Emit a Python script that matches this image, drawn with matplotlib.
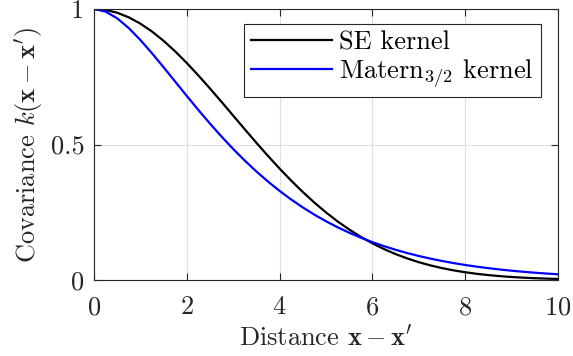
import matplotlib
matplotlib.use('Agg')
import matplotlib.pyplot as plt

# distance values
dist = [0, 0.25, 0.5, 0.75, 1, 1.25, 1.5, 1.75, 2, 2.25, 2.5, 2.75, 3, 3.25, 3.5,
        3.75, 4, 4.25, 4.5, 4.75, 5, 5.25, 5.5, 5.75, 6, 6.25, 6.5, 6.75, 7,
        7.25, 7.5, 7.75, 8, 8.25, 8.5, 8.75, 9, 9.25, 9.5, 9.75, 10]

se_kernel = [1.0, 0.9965, 0.9862, 0.9692, 0.9460, 0.9169, 0.8825, 0.8435,
             0.8007, 0.7548, 0.7066, 0.6570, 0.6065, 0.5561, 0.5063, 0.4578,
             0.4111, 0.3666, 0.3247, 0.2855, 0.2494, 0.2162, 0.1863, 0.1593,
             0.1353, 0.1142, 0.0956, 0.0796, 0.0657, 0.0539, 0.0439, 0.0355,
             0.0286, 0.0228, 0.0181, 0.0142, 0.0111, 0.0086, 0.0067, 0.0051,
             0.0039]

matern_kernel = [1.0, 0.9905, 0.9655, 0.9294, 0.8855, 0.8366, 0.7849, 0.7320,
                 0.6791, 0.6272, 0.5770, 0.5289, 0.4834, 0.4405, 0.4004, 0.3632,
                 0.3287, 0.2969, 0.2678, 0.2411, 0.2167, 0.1946, 0.1744, 0.1562,
                 0.1397, 0.1249, 0.1115, 0.0994, 0.0886, 0.0789, 0.0702, 0.0624,
                 0.0554, 0.0492, 0.0437, 0.0387, 0.0343, 0.0304, 0.0269, 0.0238,
                 0.0211]

xticks = [0, 2, 4, 6, 8, 10]
yticks = [0, 0.5, 1]
ytick_labels = ['0', '0.5', '1']

plt.rcParams['font.family'] = 'cmr10'
plt.rcParams['mathtext.fontset'] = 'cm'
plt.rcParams['axes.formatter.use_mathtext'] = True

fs = 19
fig = plt.figure(figsize=(5.73, 3.56), dpi=100)
ax = fig.add_axes([94 / 573, 1 - 280 / 356, 464 / 573, 271 / 356])

ax.plot(dist, se_kernel, '-', color='black', lw=1.6, label='SE kernel')
ax.plot(dist, matern_kernel, '-', color='blue', lw=1.6, label='Matern$_{3/2}$ kernel')

ax.set_xlim(0, 10)
ax.set_ylim(0, 1)
ax.set_xticks(xticks)
ax.set_yticks(yticks, labels=ytick_labels)
ax.grid(True, color='#dfdfdf', lw=0.8)
ax.set_axisbelow(True)
ax.tick_params(direction='in', top=True, right=True, length=5, width=0.8,
               color='#262626', labelsize=fs, labelcolor='#262626', pad=7)
ax.tick_params(axis='x', pad=11)
for s in ax.spines.values():
    s.set_color('#262626')
    s.set_linewidth(0.8)

ax.set_xlabel(r'Distance $\mathbf{x}-\mathbf{x}^{\prime}$', fontsize=fs, color='#262626', labelpad=4)
ax.set_ylabel(r'Covariance $k(\mathbf{x}-\mathbf{x}^{\prime})$', fontsize=fs, color='#262626', labelpad=4)

leg = ax.legend(loc='upper right', bbox_to_anchor=(0.963, 0.945), borderaxespad=0,
                fontsize=fs, fancybox=False, framealpha=1, edgecolor='#262626',
                handlelength=3.05, handletextpad=0.3, labelspacing=0.12,
                borderpad=0.25)
leg.get_frame().set_linewidth(0.8)

fig.savefig('out.png', dpi=100)
